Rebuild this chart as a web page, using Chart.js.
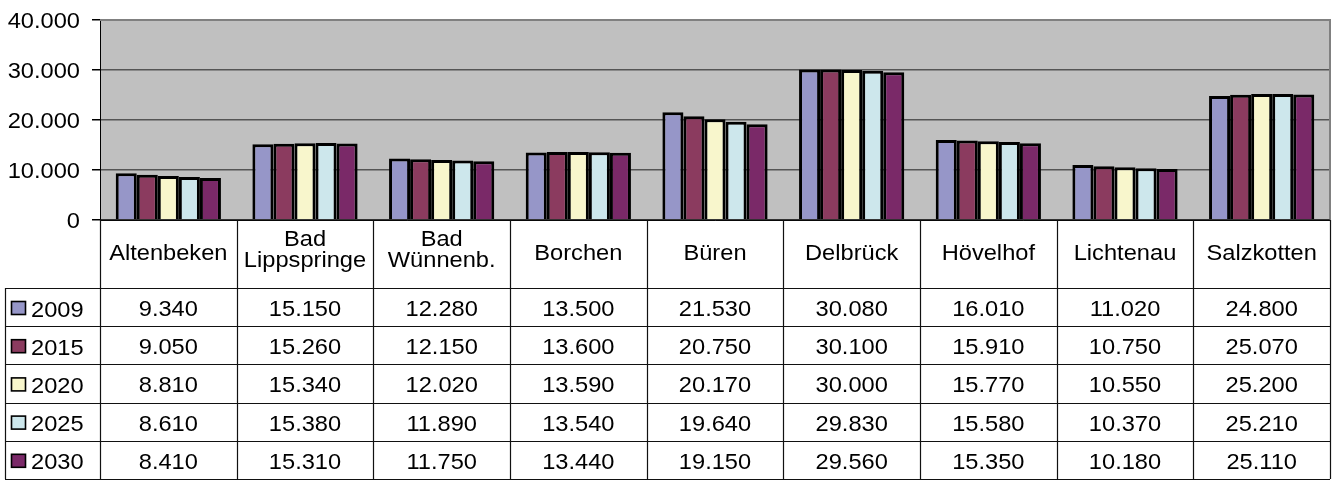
<!DOCTYPE html>
<html>
<head>
<meta charset="utf-8">
<script src="https://cdn.jsdelivr.net/npm/chart.js@4.4.0/dist/chart.umd.min.js"></script>
<style>
  body { margin: 0; background: #fff; }
  #wrap { width: 1335px; height: 482px; position: relative; }
</style>
</head>
<body>
<div id="wrap"><canvas id="myChart"></canvas></div>
<script>
// data
const towns = [['Altenbeken'], ['Bad', 'Lippspringe'], ['Bad', 'Wünnenb.'], ['Borchen'], ['Büren'],
  ['Delbrück'], ['Hövelhof'], ['Lichtenau'], ['Salzkotten']];
const years = ['2009', '2015', '2020', '2025', '2030'];
const v2009 = [9340, 15150, 12280, 13500, 21530, 30080, 16010, 11020, 24800];
const v2015 = [9050, 15260, 12150, 13600, 20750, 30100, 15910, 10750, 25070];
const v2020 = [8810, 15340, 12020, 13590, 20170, 30000, 15770, 10550, 25200];
const v2025 = [8610, 15380, 11890, 13540, 19640, 29830, 15580, 10370, 25210];
const v2030 = [8410, 15310, 11750, 13440, 19150, 29560, 15350, 10180, 25110];
const yTicks = [0, 10000, 20000, 30000, 40000];

const colors = ['#9696C8', '#8B3B5F', '#F8F6CC', '#CDE7EC', '#7A2968'];
const allValues = [v2009, v2015, v2020, v2025, v2030];
const font = '21.5px "Liberation Sans", Arial, sans-serif';

function fmt(n) {
  return n.toString().replace(/\B(?=(\d{3})+(?!\d))/g, '.');
}

// the original text is a bit stretched sideways
function txt(c, s, x, y, align) {
  c.save();
  c.translate(x, y);
  c.scale(1.1, 1);
  c.font = font;
  c.fillStyle = '#000';
  c.textAlign = align;
  c.textBaseline = 'alphabetic';
  c.fillText(s, 0, 0);
  c.restore();
}

// grey plot background + y labels
const plotBg = {
  id: 'plotBg',
  beforeDraw(chart) {
    const a = chart.chartArea;
    const c = chart.ctx;
    c.save();
    c.fillStyle = '#C0C0C0';
    c.fillRect(a.left, a.top, a.right - a.left, a.bottom - a.top);
    c.restore();
  },
  afterDraw(chart) {
    const a = chart.chartArea;
    const c = chart.ctx;
    const y = chart.scales.y;
    c.save();
    c.strokeStyle = '#808080';
    c.lineWidth = 2;
    c.beginPath();
    c.moveTo(a.left, a.top);
    c.lineTo(a.right, a.top);
    c.lineTo(a.right, a.bottom);
    c.stroke();
    c.restore();
    yTicks.forEach(v => txt(chart.ctx, fmt(v), 80, y.getPixelForValue(v) + 7.5, 'right'));
  }
};

// data table under the plot
const dataTable = {
  id: 'dataTable',
  afterDraw(chart) {
    const x = chart.scales.x;
    const c = chart.ctx;
    const left = x.left, right = x.right;
    const colW = (right - left) / towns.length;
    const top = chart.chartArea.bottom;
    const headH = 68;
    const rowH = 38.2;
    const legL = 5;
    const bottom = top + headH + rowH * years.length;

    c.save();
    c.strokeStyle = '#111';
    c.lineWidth = 1.2;
    c.beginPath();
    for (let i = 0; i <= towns.length; i++) {
      const px = Math.round(left + i * colW) + 0.5;
      c.moveTo(px, top);
      c.lineTo(px, bottom);
    }
    c.moveTo(legL + 0.5, top + headH);
    c.lineTo(legL + 0.5, bottom);
    c.moveTo(left, top);
    c.lineTo(right, top);
    for (let r = 0; r <= years.length; r++) {
      const py = Math.round(top + headH + r * rowH) + 0.5;
      c.moveTo(legL, py);
      c.lineTo(right, py);
    }
    c.stroke();
    c.restore();

    towns.forEach((t, i) => {
      const cx = left + (i + 0.5) * colW;
      if (t.length === 1) {
        txt(c, t[0], cx, top + 40, 'center');
      } else {
        txt(c, t[0], cx, top + 26, 'center');
        txt(c, t[1], cx, top + 47, 'center');
      }
    });

    years.forEach((yr, r) => {
      const rowTop = top + headH + r * rowH;
      allValues[r].forEach((v, i) => {
        txt(c, fmt(v), left + (i + 0.5) * colW, rowTop + 28, 'center');
      });
      // legend swatch
      c.save();
      c.fillStyle = colors[r];
      c.fillRect(11.5, rowTop + 13.5, 14, 13);
      c.lineWidth = 1.6;
      c.strokeStyle = '#000';
      c.strokeRect(11.5, rowTop + 13.5, 14, 13);
      c.restore();
      txt(c, yr, 31, rowTop + 28.5, 'left');
    });
  }
};

const ctx = document.getElementById('myChart');

new Chart(ctx, {
  type: 'bar',
  data: {
    labels: towns,
    datasets: years.map((y, i) => ({
      label: y,
      data: allValues[i],
      backgroundColor: colors[i],
      borderColor: '#000',
      borderWidth: 3,
      borderSkipped: 'bottom',
      categoryPercentage: 0.77,
      barPercentage: 1
    }))
  },
  options: {
    responsive: true,
    maintainAspectRatio: false,
    animation: false,
    layout: { padding: { top: 20, right: 5, bottom: 262, left: 0 } },
    plugins: {
      legend: { display: false },
      tooltip: { enabled: false }
    },
    scales: {
      x: {
        afterFit(axis) { axis.height = 0; },
        ticks: { display: false },
        grid: { display: false },
        border: { display: true, color: '#000', width: 1 }
      },
      y: {
        min: 0,
        max: 40000,
        afterFit(axis) { axis.width = 100; },
        afterBuildTicks(axis) { axis.ticks = yTicks.map(v => ({ value: v })); },
        ticks: { display: false },
        grid: { color: '#555', lineWidth: 1.5, tickLength: 8, tickColor: '#000' },
        border: { display: true, color: '#000', width: 1 }
      }
    }
  },
  plugins: [plotBg, dataTable]
});
</script>
</body>
</html>
